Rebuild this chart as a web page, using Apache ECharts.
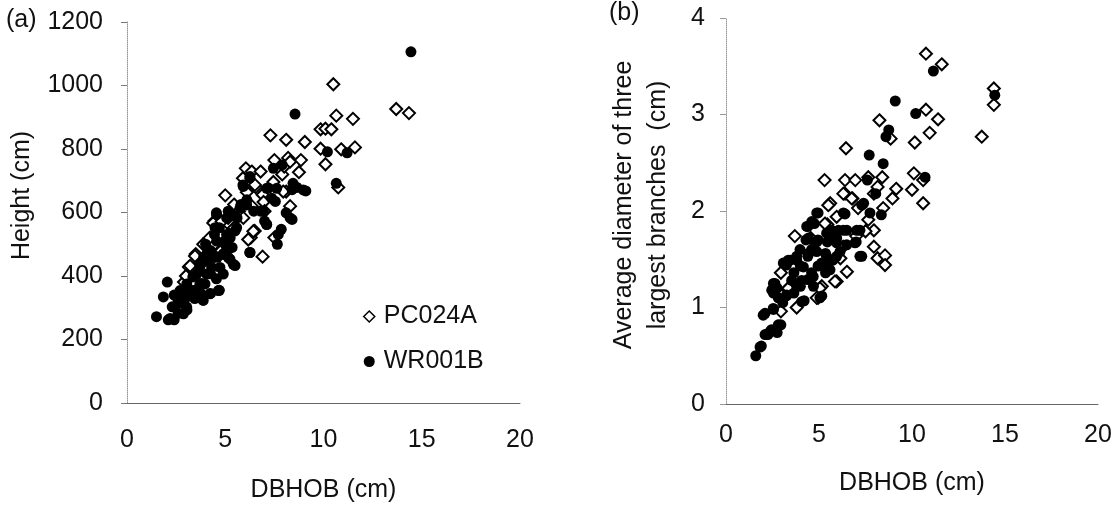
<!DOCTYPE html>
<html>
<head>
<meta charset="utf-8">
<script src="https://cdn.jsdelivr.net/npm/echarts@6/dist/echarts.min.js"></script>
<style>
  html, body { margin: 0; padding: 0; background: #fff; }
  #main { width: 1120px; height: 508px; }
</style>
</head>
<body>
<div id="main"></div>
<script>
// (a) height vs DBHOB
var heightPC_x = [10.5,13.7,14.35,10.65,11.5,7.3,8.1,9.05,9.85,10.1,10.4,9.85,10.9,11.6,10.1,10.75,7.5,8.2,8.85,8.75,6.05,6.35,6.8,7.45,7.9,8.1,8.3,6.9,6.55,6.1,5.0,5.45,5.7,6.35,6.95,7.0,7.5,6.9,6.3,6.5,4.45,4.9,4.45,3.5,3.15,2.9,3.7,4.05,5.15,5.45,4.8,5.9,8.0,3.0,4.2,
                  8.3,6.51,7.95,4.39,4.73,5.92,6.43,6.17,3.46,3.21,3.88,4.82];
var heightPC_y = [1004,926,913,905,895,843,829,822,862,864,862,801,799,805,752,679,765,772,765,727,739,729,729,696,720,666,620,656,680,664,654,625,604,620,633,604,521,461,521,542,573,542,500,469,428,381,438,417,583,552,480,708,745,400,520,
                  760,687,666,567,531,583,541,515,463,432,500,572];
var heightWR_x = [14.45,8.55,10.2,11.2,10.65,9.1,8.65,8.4,8.4,8.1,7.85,7.65,7.55,7.2,7.1,7.9,5.9,6.25,6.45,6.8,7.0,6.25,5.5,5.6,5.15,4.55,4.45,4.7,5.0,5.35,5.15,4.6,4.25,4.05,3.7,4.25,4.55,4.7,4.25,3.8,3.45,3.35,3.05,2.8,3.05,2.6,2.4,2.05,1.85,1.5,2.1,2.4,2.3,2.9,3.45,3.75,5.5,5.25,5.8,6.1,4.9,4.0,3.9,
                  2.19,2.61,3.04,3.29,3.71,4.05,4.65,4.22,3.88,4.73,4.39,4.9,5.41,5.24,4.56,5.07,4.48,4.56,5.07,5.5,5.58,4.05,3.71,3.55,3.04,2.7,2.44,2.87,3.55,3.97,4.31,4.9,5.24,4.99,5.75,6.09,6.94,7.11,7.7,8.3,7.36,7.62,8.97,7.11,5.92,6.26,7.45,8.45,6.26];
var heightWR_y = [1106,910,791,788,692,668,679,672,578,599,547,500,635,677,563,750,687,708,604,604,573,474,433,583,604,599,531,552,511,490,459,459,480,448,428,407,391,355,345,376,355,397,334,314,293,282,340,381,334,272,262,262,303,350,329,345,542,520,625,640,470,500,460,
                  266,323,302,354,375,406,354,344,323,427,458,468,437,489,510,531,552,593,583,588,552,468,437,406,375,354,302,281,344,375,427,406,453,500,614,624,604,562,531,583,645,676,671,676,682,713,739,692,474];

// (b) branch diameter vs DBHOB
var branchPC_x = [10.75,11.6,14.4,14.4,13.75,10.75,11.4,10.95,10.15,8.25,8.85,6.45,5.3,6.4,6.95,7.65,8.4,9.15,10.1,10.6,10.0,10.6,5.6,6.4,6.8,7.95,8.15,8.95,8.45,5.95,7.1,7.65,7.95,7.95,8.15,8.55,8.55,3.7,4.55,5.45,6.3,6.5,5.95,5.15,4.95,3.8,2.95,2.95,3.3,3.8,6.15,7.0,7.5,
                  3.35,5.86,5.05,4.88,5.5,5.32,6.31,6.76];
var branchPC_y = [3.63,3.52,3.27,3.10,2.77,3.05,2.95,2.81,2.71,2.94,2.75,2.65,2.32,2.32,2.32,2.35,2.35,2.23,2.39,2.32,2.22,2.08,2.08,2.18,2.13,2.18,2.25,2.13,2.03,1.94,2.03,1.91,1.80,1.63,1.51,1.54,1.44,1.74,1.72,1.86,1.63,1.37,1.27,1.22,1.10,1.00,1.36,0.96,1.19,1.22,1.51,1.74,1.79,
                  1.20,1.27,1.20,1.10,2.06,1.87,2.18,2.13];
var branchWR_x = [11.15,14.45,9.1,10.2,8.75,8.6,7.7,8.45,10.7,7.6,8.05,7.4,8.35,6.4,7.2,7.0,7.3,6.5,6.05,5.65,5.95,5.35,4.95,4.75,4.4,4.3,4.95,4.6,4.4,3.8,3.45,3.25,4.0,4.6,4.95,5.45,5.75,4.4,4.0,3.65,3.25,2.75,2.55,2.55,3.05,4.2,5.15,4.7,5.35,2.55,2.1,2.45,2.95,2.25,1.9,1.6,2.75,3.65,5.75,5.45,
                  1.83,2.1,2.37,2.81,2.0,2.54,2.46,2.63,2.81,3.26,3.53,3.08,3.35,3.8,4.16,3.98,4.43,4.88,4.34,4.61,4.88,4.43,4.88,5.41,5.68,5.95,6.31,5.95,5.41,5.59,5.14,4.69,4.07,3.8,5.05,4.07,7.03,6.94,7.2,7.3,7.74,6.31,6.49,6.13];
var branchWR_y = [3.45,3.20,3.14,3.01,2.84,2.77,2.58,2.49,2.35,2.32,2.18,2.08,1.96,1.97,1.80,1.68,1.53,1.80,1.80,1.77,1.67,1.56,1.98,1.87,1.84,1.70,1.70,1.60,1.53,1.53,1.49,1.44,1.43,1.36,1.43,1.46,1.49,1.29,1.22,1.15,1.12,1.20,1.25,1.15,1.05,1.07,1.12,1.22,1.36,0.98,0.94,0.77,0.82,0.72,0.60,0.50,0.74,1.36,1.77,1.68,
                  0.59,0.72,0.75,0.82,0.92,0.99,1.18,1.25,1.10,1.13,1.28,1.46,1.49,1.49,1.42,1.60,1.56,1.58,1.84,1.89,1.98,1.72,1.68,1.77,1.80,1.72,1.80,1.53,1.53,1.39,1.46,1.32,1.28,1.22,1.10,1.06,1.80,1.67,1.53,2.06,1.98,1.98,1.65,1.58];

var xTicks = [0, 20, 5];
var FONT = 'Liberation Sans, Arial, sans-serif';

function pairs(xs, ys) {
    var out = [];
    for (var i = 0; i < xs.length; i++) out.push([xs[i], ys[i]]);
    return out;
}

var myChart = echarts.init(document.getElementById('main'), null, {renderer: 'canvas'});

var labelStyle = {color: '#111', fontSize: 25, fontFamily: FONT};
var plain = function (v) { return String(v); };
var yLine = {show: true, lineStyle: {color: '#999', type: 'dotted', width: 1}};
var xLine = {show: true, onZero: false, lineStyle: {color: '#666', width: 1}};

var pcStyle = {color: '#fff', borderColor: '#000', borderWidth: 2, opacity: 1};
var wrStyle = {color: '#000', opacity: 1};

var option = {
    animation: false,
    backgroundColor: '#fff',
    textStyle: {fontFamily: FONT},
    graphic: [
        {type: 'text', left: 6, top: 8, style: {text: '(a)', font: '25px ' + FONT, fill: '#111'}},
        {type: 'text', left: 609, top: 1, style: {text: '(b)', font: '25px ' + FONT, fill: '#111'}}
    ],
    legend: {
        orient: 'vertical',
        left: 363,
        top: 304,
        padding: 0,
        itemGap: 20,
        itemWidth: 11,
        itemHeight: 11,
        textStyle: {color: '#111', fontSize: 25, fontFamily: FONT, padding: [0, 0, 0, 4]},
        data: [
            {name: 'PC024A', icon: 'diamond', itemStyle: {color: '#fff', borderColor: '#000', borderWidth: 1.5}},
            {name: 'WR001B', icon: 'circle'}
        ]
    },
    grid: [
        {left: 127, width: 393, top: 22, height: 385},
        {left: 726, width: 372, top: 18, height: 386}
    ],
    xAxis: [
        {
            gridIndex: 0, type: 'value', min: xTicks[0], max: xTicks[1], interval: xTicks[2],
            name: 'DBHOB (cm)', nameLocation: 'middle', nameGap: 75,
            nameTextStyle: labelStyle,
            axisLine: xLine, axisTick: {show: false}, splitLine: {show: false},
            axisLabel: Object.assign({margin: 25, formatter: plain}, labelStyle)
        },
        {
            gridIndex: 1, type: 'value', min: xTicks[0], max: xTicks[1], interval: xTicks[2],
            name: 'DBHOB (cm)', nameLocation: 'middle', nameGap: 67,
            nameTextStyle: labelStyle,
            axisLine: xLine, axisTick: {show: false}, splitLine: {show: false},
            axisLabel: Object.assign({margin: 19, formatter: plain}, labelStyle)
        }
    ],
    yAxis: [
        {
            gridIndex: 0, type: 'value', min: 0, max: 1200, interval: 200,
            name: 'Height (cm)', nameLocation: 'middle', nameGap: 92,
            nameTextStyle: Object.assign({padding: [0, 0, 0, 34]}, labelStyle),
            axisLine: yLine,
            axisTick: {show: true, length: 6, lineStyle: {color: '#777'}},
            splitLine: {show: false},
            axisLabel: Object.assign({margin: 24, formatter: plain}, labelStyle)
        },
        {
            gridIndex: 1, type: 'value', min: 0, max: 4, interval: 1,
            name: 'Average diameter of three\nlargest branches  (cm)', nameLocation: 'middle', nameGap: 51,
            nameTextStyle: Object.assign({padding: [0, 0, 0, 12], lineHeight: 34}, labelStyle),
            axisLine: yLine,
            axisTick: {show: true, length: 6, lineStyle: {color: '#999'}},
            splitLine: {show: false},
            axisLabel: Object.assign({margin: 21, formatter: plain}, labelStyle)
        }
    ],
    series: [
        {name: 'PC024A', type: 'scatter', xAxisIndex: 0, yAxisIndex: 0, symbol: 'diamond', symbolSize: 12,
         itemStyle: pcStyle, data: pairs(heightPC_x, heightPC_y)},
        {name: 'WR001B', type: 'scatter', xAxisIndex: 0, yAxisIndex: 0, symbol: 'circle', symbolSize: 11,
         itemStyle: wrStyle, data: pairs(heightWR_x, heightWR_y)},
        {name: 'PC024A', type: 'scatter', xAxisIndex: 1, yAxisIndex: 1, symbol: 'diamond', symbolSize: 12,
         itemStyle: pcStyle, data: pairs(branchPC_x, branchPC_y)},
        {name: 'WR001B', type: 'scatter', xAxisIndex: 1, yAxisIndex: 1, symbol: 'circle', symbolSize: 11,
         itemStyle: wrStyle, data: pairs(branchWR_x, branchWR_y)}
    ]
};

myChart.setOption(option);
</script>
</body>
</html>
